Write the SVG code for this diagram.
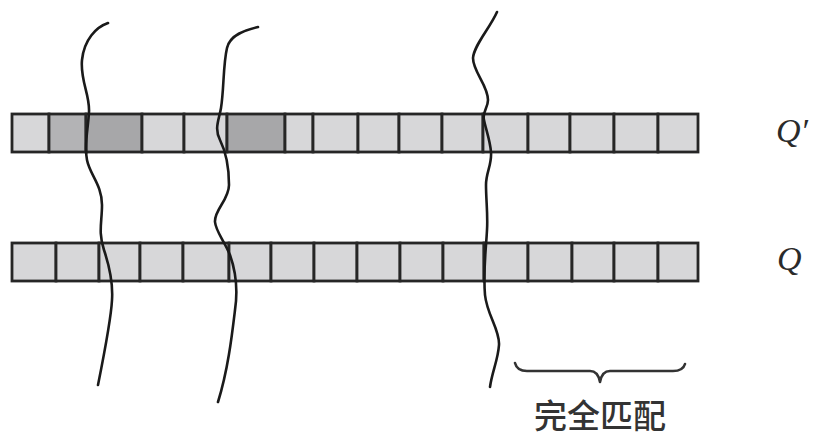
<svg xmlns="http://www.w3.org/2000/svg" width="815" height="437" viewBox="0 0 815 437">
<style>
.c{fill:#d7d7d9;stroke:#262626;stroke-width:2.8}
.m{fill:#b3b3b5;stroke:#262626;stroke-width:2.8}
.d{fill:#a7a7a9;stroke:#262626;stroke-width:2.8}
.w{fill:none;stroke:#1a1a1a;stroke-width:2.6;stroke-linecap:round;stroke-linejoin:round}
.b{fill:none;stroke:#333;stroke-width:2.6;stroke-linecap:round;stroke-linejoin:round}
.q{font-family:"Liberation Serif","Times New Roman",serif;font-style:italic;font-size:34px;fill:#2a2a2a}
.t{font-family:"Noto Sans CJK SC","Noto Sans CJK JP",sans-serif;font-size:33px;font-weight:500;fill:#333}
</style>
<rect width="815" height="437" fill="#ffffff"/>
<g id="row-qprime">
<rect class="c" x="12" y="114" width="37" height="38"/>
<rect class="m" x="49" y="114" width="37" height="38"/>
<rect class="d" x="86" y="114" width="56" height="38"/>
<rect class="c" x="142" y="114" width="42" height="38"/>
<rect class="c" x="184" y="114" width="43" height="38"/>
<rect class="d" x="227" y="114" width="58" height="38"/>
<rect class="c" x="285" y="114" width="28" height="38"/>
<rect class="c" x="313" y="114" width="45" height="38"/>
<rect class="c" x="358" y="114" width="41" height="38"/>
<rect class="c" x="399" y="114" width="43" height="38"/>
<rect class="c" x="442" y="114" width="41" height="38"/>
<rect class="c" x="483" y="114" width="45" height="38"/>
<rect class="c" x="528" y="114" width="42" height="38"/>
<rect class="c" x="570" y="114" width="44" height="38"/>
<rect class="c" x="614" y="114" width="44" height="38"/>
<rect class="c" x="658" y="114" width="40" height="38"/>
</g>
<g id="row-q">
<rect class="c" x="12" y="243" width="44" height="38"/>
<rect class="c" x="56" y="243" width="43" height="38"/>
<rect class="c" x="99" y="243" width="41" height="38"/>
<rect class="c" x="140" y="243" width="43" height="38"/>
<rect class="c" x="183" y="243" width="46" height="38"/>
<rect class="c" x="229" y="243" width="42" height="38"/>
<rect class="c" x="271" y="243" width="43" height="38"/>
<rect class="c" x="314" y="243" width="43" height="38"/>
<rect class="c" x="357" y="243" width="43" height="38"/>
<rect class="c" x="400" y="243" width="43" height="38"/>
<rect class="c" x="443" y="243" width="41" height="38"/>
<rect class="c" x="484" y="243" width="44" height="38"/>
<rect class="c" x="528" y="243" width="44" height="38"/>
<rect class="c" x="572" y="243" width="42" height="38"/>
<rect class="c" x="614" y="243" width="44" height="38"/>
<rect class="c" x="658" y="243" width="40" height="38"/>
</g>
<g id="connectors">
<path class="w" d="M108,23 C96,27 84,40 82,60 C80,80 90,95 89,112 C88,130 84,145 87,160 C90,175 102,185 102,205 C102,222 98,232 104,250 C110,268 113,285 112,300 C111,320 104,355 98,385"/>
<path class="w" d="M258,27 C245,30 230,35 227,48 C223,65 224,90 221,108 C219,120 214,128 220,140 C226,152 229,165 229,185 C229,200 214,210 215,222 C216,232 224,240 230,255 C236,272 238,290 235,310 C232,335 228,370 218,402"/>
<path class="w" d="M497,12 C490,28 474,45 473,58 C473,72 488,85 488,100 C488,108 482,112 484,120 C486,130 490,140 491,152 C492,165 486,172 486,185 C486,200 488,215 487,230 C486,250 483,270 485,295 C487,315 500,330 499,345 C498,360 492,372 490,387"/>
</g>
<g id="brace">
<path class="b" d="M515,363 Q517,371 527,371 L590,371 Q598,371 600,382 Q602,371 610,371 L673,371 Q683,371 685,364"/>
<text class="t" x="600" y="428" text-anchor="middle">完全匹配</text>
</g>
<g id="labels">
<text class="q" x="776" y="142">Q′</text>
<text class="q" x="777" y="270">Q</text>
</g>
</svg>
